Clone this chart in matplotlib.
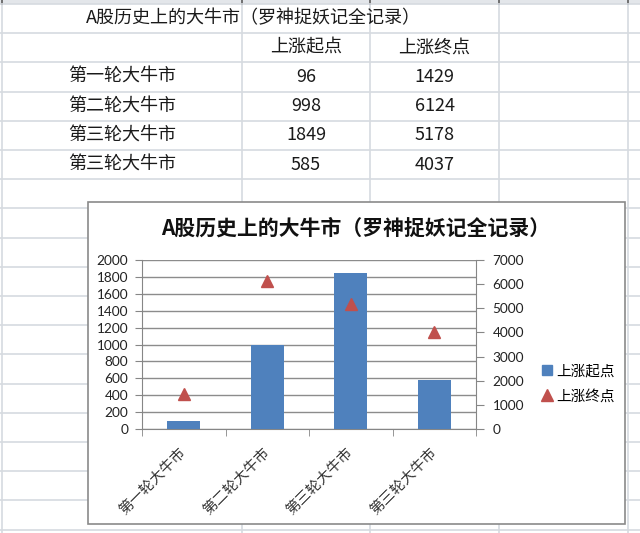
import matplotlib
matplotlib.use("Agg")
import matplotlib.pyplot as plt
from matplotlib.patches import Rectangle
from matplotlib.lines import Line2D
import numpy as np

# ---- data ----
sheet_title = "A股历史上的大牛市（罗神捉妖记全记录）"
chart_title = "A股历史上的大牛市（罗神捉妖记全记录）"
categories = ["第一轮大牛市", "第二轮大牛市", "第三轮大牛市", "第三轮大牛市"]
series_names = ["上涨起点", "上涨终点"]
start_vals = [96, 998, 1849, 585]
end_vals = [1429, 6124, 5178, 4037]
left_ticks = [0, 200, 400, 600, 800, 1000, 1200, 1400, 1600, 1800, 2000]
right_ticks = [0, 1000, 2000, 3000, 4000, 5000, 6000, 7000]

CJK = ["Noto Sans CJK SC", "DejaVu Sans"]
NUM = ["Lato", "DejaVu Sans"]
W, H = 640, 533
fig = plt.figure(figsize=(W / 100, H / 100), dpi=100)
fig.patch.set_facecolor("white")

# ---- spreadsheet background ----
bg = fig.add_axes([0, 0, 1, 1])
bg.set_xlim(0, W)
bg.set_ylim(H, 0)
bg.axis("off")
grid_c = "#d6dae0"
bg.add_patch(Rectangle((0, 0), W, 4, facecolor="#e3e6ea", edgecolor="none"))
col_lines = [2, 242, 370, 499, 628]
for cx in col_lines:
    bg.plot([cx, cx], [0, H], color=grid_c, lw=1.2)
    bg.plot([cx, cx], [0, 3.5], color="#707070", lw=1.4)
row_h = 29.2
rows = np.arange(4, H + 1, row_h)
for ry in rows:
    bg.plot([0, W], [ry, ry], color=grid_c, lw=1.2)

# table text
tcol = "#1a1a1a"
fs_tab = 13
bg.text(86, rows[0] + row_h / 2, sheet_title, family=CJK, fontsize=fs_tab,
        ha="left", va="center", color=tcol)
colB = (242 + 370) / 2
colC = (370 + 499) / 2
colA = (2 + 242) / 2
for name, cx in zip(series_names, [colB, colC]):
    bg.text(cx, rows[1] + row_h / 2, name, family=CJK, fontsize=fs_tab,
            ha="center", va="center", color=tcol)
for i, (cat, s, e) in enumerate(zip(categories, start_vals, end_vals)):
    yc = rows[2 + i] + row_h / 2
    bg.text(colA, yc, cat, family=CJK, fontsize=fs_tab, ha="center", va="center", color=tcol)
    bg.text(colB, yc, str(s), family=CJK, fontsize=fs_tab, ha="center", va="center", color=tcol)
    bg.text(colC, yc, str(e), family=CJK, fontsize=fs_tab, ha="center", va="center", color=tcol)

# chart box
bg.add_patch(Rectangle((88, 202), 537, 322, facecolor="white",
                       edgecolor="#8a8a8a", lw=1.2, zorder=5))
bg.text(356, 228, chart_title, family=CJK, fontsize=15, fontweight="bold",
        ha="center", va="center", color="#111111", zorder=6)

# ---- chart axes ----
L, R, T, B = 142, 476, 260, 429
ax = fig.add_axes([L / W, 1 - B / H, (R - L) / W, (B - T) / H])
ax.set_facecolor("none")
x = np.arange(len(categories))
ax.bar(x, start_vals, width=0.4, color="#4f81bd", zorder=3)
ax.set_xlim(-0.5, len(categories) - 0.5)
ax.set_ylim(0, 2000)
ax.set_yticks(left_ticks)
ax.yaxis.grid(True, color="#8c8c8c", lw=1)
ax.set_axisbelow(True)
axis_c = "#868686"
for sp in ["top", "right"]:
    ax.spines[sp].set_visible(False)
for sp in ["left", "bottom"]:
    ax.spines[sp].set_color(axis_c)
ax.set_xticks(x)
ax.set_xticklabels(categories, family=CJK, fontsize=10.5, rotation=45,
                   ha="right", va="center", rotation_mode="anchor", color="#333333")
ax.set_xticks(np.arange(-0.5, len(categories)), minor=True)
ax.tick_params(axis="x", which="major", length=0, pad=15)
ax.tick_params(axis="x", which="minor", length=5, color=axis_c, direction="out")
ax.tick_params(axis="y", length=5, color=axis_c, pad=5)
for lab in ax.get_yticklabels():
    lab.set_family(NUM)
    lab.set_fontsize(9.8)
    lab.set_color("#222222")

ax2 = ax.twinx()
ax2.plot(x, end_vals, linestyle="none", marker="^", markersize=8.5,
         color="#c0504d", zorder=4)
ax2.set_ylim(0, 7000)
ax2.set_yticks(right_ticks)
for sp in ["top", "left", "bottom"]:
    ax2.spines[sp].set_visible(False)
ax2.spines["right"].set_color(axis_c)
ax2.tick_params(axis="y", length=6, color=axis_c, pad=6)
for lab in ax2.get_yticklabels():
    lab.set_family(NUM)
    lab.set_fontsize(9.8)
    lab.set_color("#222222")

handles = [Line2D([], [], linestyle="none", marker="s", markersize=7, color="#4f81bd"),
           Line2D([], [], linestyle="none", marker="^", markersize=8, color="#c0504d")]
fig.legend(handles, series_names, loc="center left",
           bbox_to_anchor=(534 / W, 1 - 384 / H), frameon=False,
           prop={"family": CJK, "size": 10.5}, handlelength=0.8,
           handletextpad=0.2, labelspacing=0.75, borderpad=0)

fig.savefig("out.png", dpi=100)
